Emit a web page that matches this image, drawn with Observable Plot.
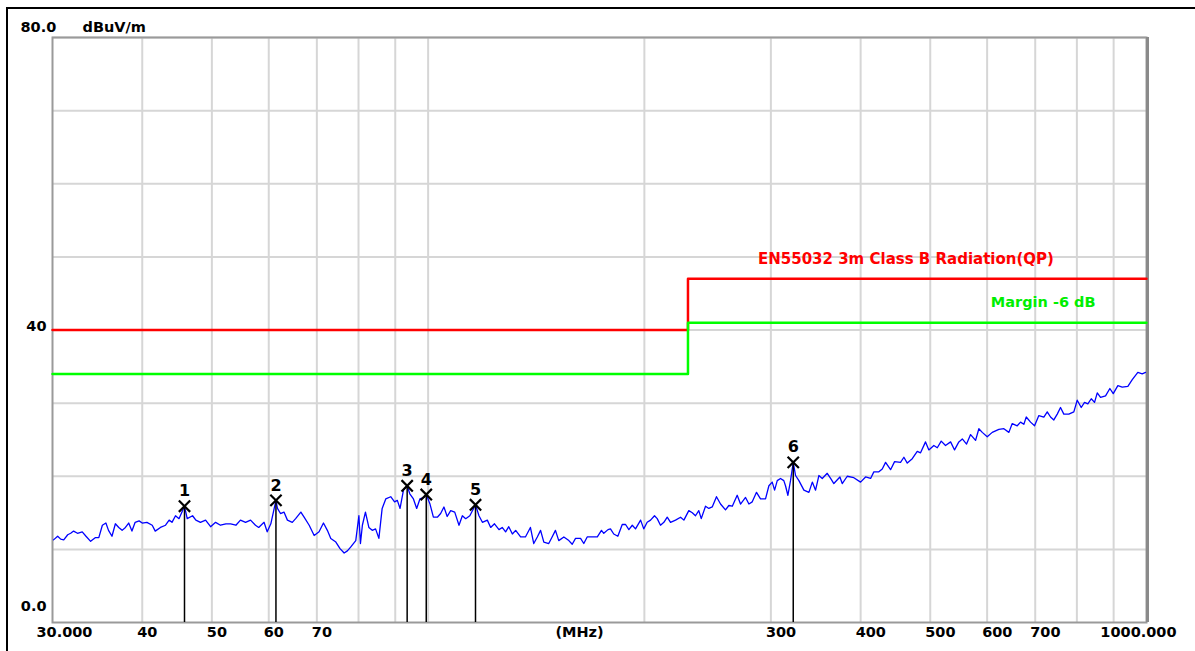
<!DOCTYPE html>
<html>
<head>
<meta charset="utf-8">
<script src="https://cdn.jsdelivr.net/npm/d3@7"></script>
<script src="https://cdn.jsdelivr.net/npm/@observablehq/plot@0.6"></script>
<style>
  html, body { margin: 0; padding: 0; background: #fff; overflow: hidden; width: 1195px; height: 651px; }
  #outer { position: absolute; left: 6px; top: 7px; width: 1400px; height: 900px; border: 2px solid #000; box-sizing: border-box; }
  #chart { position: absolute; left: 0; top: 0; }
</style>
</head>
<body>
<div id="outer"></div>
<div id="chart"></div>
<script>
// ---- data ----
const traceFreq = [
30.1, 30.5, 30.8, 31.1, 31.5, 31.8, 32.1, 32.5, 33.0, 33.4,
33.9, 34.4, 34.8, 35.2, 35.6, 35.9, 36.3, 36.7, 37.1, 37.5,
37.9, 38.3, 38.7, 39.1, 39.6, 40.0, 40.6, 41.3, 41.7, 42.4,
43.1, 43.6, 44.0, 44.5, 45.0, 45.8, 46.2, 47.0, 47.5, 48.2,
49.0, 49.8, 50.6, 51.4, 52.3, 53.1, 54.0, 54.8, 55.7, 56.6,
57.5, 58.1, 59.1, 59.7, 60.4, 61.4, 61.7, 62.3, 63.0, 63.7,
64.7, 65.4, 66.5, 67.2, 68.3, 69.4, 70.5, 71.5, 72.4, 73.2,
74.4, 75.4, 76.4, 77.2, 78.0, 79.3, 80.1, 80.5, 81.0, 81.8,
82.7, 83.6, 84.5, 85.4, 86.3, 87.3, 88.7, 89.8, 90.6, 91.4,
92.4, 93.5, 94.3, 95.4, 96.4, 97.4, 98.7, 99.4, 100.6, 101.7,
103.0, 104.1, 105.2, 106.3, 107.5, 108.9, 110.4, 111.6, 112.8, 114.3,
116.4, 117.7, 119.0, 120.9, 122.2, 123.7, 125.5, 126.8, 128.2, 129.5,
131.0, 132.4, 134.5, 136.6, 138.8, 140.3, 141.9, 143.4, 144.9, 147.2,
148.8, 150.4, 152.0, 154.5, 157.0, 158.7, 160.4, 163.0, 164.7, 166.5,
169.2, 172.0, 174.3, 175.6, 178.0, 179.4, 181.3, 183.7, 186.3, 188.3,
190.3, 192.4, 194.4, 197.6, 199.6, 201.8, 204.0, 206.6, 208.4, 210.6,
212.9, 215.2, 217.5, 221.0, 224.6, 227.0, 230.6, 233.2, 235.6, 238.1,
240.0, 243.3, 245.9, 248.6, 252.0, 255.3, 259.4, 262.2, 265.1, 269.3,
272.2, 276.6, 279.6, 282.6, 286.5, 290.2, 294.9, 298.1, 301.3, 303.6,
306.2, 309.4, 312.7, 314.4, 316.8, 319.5, 322.3, 324.7, 328.2, 333.5,
338.9, 342.6, 346.2, 349.9, 353.7, 359.4, 363.3, 367.1, 374.3, 377.1,
383.2, 391.4, 399.9, 406.4, 413.0, 417.3, 424.1, 428.7, 433.3, 440.3,
446.0, 454.6, 459.5, 464.5, 472.0, 479.6, 484.7, 492.5, 497.8, 505.8,
511.4, 517.9, 525.1, 533.7, 540.5, 548.0, 554.1, 561.7, 569.0, 578.2,
584.3, 590.7, 600.2, 609.9, 623.0, 633.1, 643.3, 650.3, 660.8, 667.8,
674.9, 680.2, 689.6, 698.5, 708.2, 719.6, 727.5, 735.2, 743.0, 751.2,
759.1, 767.2, 779.6, 792.2, 800.9, 811.2, 819.9, 828.6, 837.7, 846.6,
854.0, 863.0, 877.0, 889.2, 898.9, 912.3, 925.2, 942.0, 955.4, 972.6,
986.4, 996.9
];
const traceLevel = [
11.3, 11.8, 11.4, 11.3, 12.0, 12.2, 12.5, 12.2, 12.4, 11.8,
11.1, 11.6, 11.6, 13.3, 13.6, 12.6, 11.8, 13.5, 13.0, 12.6,
13.0, 13.6, 12.5, 13.7, 13.9, 13.6, 13.7, 13.3, 12.5, 13.0,
13.3, 14.0, 13.7, 14.6, 14.2, 15.9, 14.2, 14.6, 14.0, 13.7,
14.0, 13.1, 13.7, 13.3, 13.5, 13.5, 13.3, 14.0, 13.7, 14.0,
13.3, 13.0, 13.7, 12.4, 13.5, 16.7, 15.6, 14.9, 15.1, 14.0,
13.7, 14.2, 15.1, 14.4, 13.3, 11.9, 12.4, 13.6, 12.6, 11.5,
11.0, 10.1, 9.5, 9.8, 10.3, 11.2, 14.6, 10.8, 13.3, 15.1,
13.0, 12.6, 12.8, 11.5, 15.6, 16.9, 17.2, 16.5, 16.7, 15.6,
18.1, 18.7, 17.6, 16.9, 15.6, 16.9, 17.1, 17.5, 16.2, 14.4,
14.4, 14.9, 15.8, 14.5, 15.3, 15.1, 13.3, 14.6, 14.2, 14.6,
16.1, 14.6, 13.7, 14.0, 13.0, 13.5, 12.7, 13.0, 12.4, 13.1,
12.1, 12.6, 11.7, 11.7, 13.0, 10.8, 11.7, 12.6, 11.0, 10.8,
11.7, 12.6, 11.2, 11.7, 11.2, 10.7, 11.5, 11.5, 10.8, 11.7,
11.7, 11.7, 12.6, 12.2, 12.7, 12.8, 12.1, 11.8, 13.4, 13.4,
12.7, 13.3, 12.8, 14.0, 12.8, 13.7, 14.0, 14.6, 14.2, 13.3,
13.7, 14.4, 13.7, 14.0, 14.4, 14.0, 15.3, 15.0, 14.6, 15.3,
14.2, 15.9, 15.6, 15.8, 17.2, 16.2, 15.4, 16.0, 15.9, 17.4,
16.2, 17.1, 16.2, 16.5, 17.8, 16.9, 16.9, 18.7, 19.2, 18.1,
19.4, 19.7, 19.4, 18.7, 17.4, 19.4, 21.9, 20.1, 19.4, 18.1,
17.8, 19.2, 18.1, 20.1, 19.7, 20.4, 19.7, 19.0, 19.9, 19.0,
20.0, 19.8, 19.2, 19.9, 19.7, 20.6, 20.6, 21.0, 21.9, 20.9,
22.0, 21.9, 22.6, 21.8, 22.4, 23.4, 23.2, 24.7, 23.6, 24.2,
23.9, 24.8, 24.2, 24.7, 23.6, 24.7, 25.1, 24.4, 25.7, 24.9,
26.5, 26.0, 25.4, 26.0, 26.4, 26.5, 26.0, 27.2, 26.9, 27.4,
27.1, 28.1, 27.4, 26.9, 28.3, 28.1, 28.8, 28.1, 27.7, 28.5,
29.4, 28.5, 28.5, 28.8, 30.4, 29.4, 30.1, 29.9, 30.6, 30.1,
31.4, 30.8, 31.0, 32.0, 31.3, 32.4, 32.2, 32.3, 33.2, 34.2,
34.0, 34.2
];

const limitFreq = [30, 230, 230, 1000];
const limitLevel = [40, 40, 47, 47];
const marginLevel = [34, 34, 41, 41];
const limitName = "EN55032 3m Class B Radiation(QP)";
const marginName = "Margin -6 dB";

const markerNo = ["1", "2", "3", "4", "5", "6"];
const markerFreq = [45.8, 61.4, 93.5, 99.4, 116.4, 322.3];
const markerLevel = [15.9, 16.7, 18.7, 17.5, 16.1, 21.9];

const gridFreq = [40, 50, 60, 70, 80, 90, 100, 200, 300, 400, 500, 600, 700, 800, 900];
const gridLevel = [10, 20, 30, 40, 50, 60, 70, 80];

const xTickValues = [40, 50, 60, 70, 300, 400, 500, 600, 700];
const xTickLabels = ["40", "50", "60", "70", "300", "400", "500", "600", "700"];
const xStartLabel = "30.000";
const xEndLabel = "1000.000";
const xUnitLabel = "(MHz)";
const yUnitLabel = "dBuV/m";
const yTopLabel = "80.0";
const yMidValue = 40, yMidLabel = "40";
const yLowValue = 0, yLowLabel = "0.0";

// ---- tables ----
const trace = traceFreq.map((f, i) => ({f, v: traceLevel[i]}));
const limit = limitFreq.map((f, i) => ({f, v: limitLevel[i]}));
const margin = limitFreq.map((f, i) => ({f, v: marginLevel[i]}));
const markers = markerFreq.map((f, i) => ({f, v: markerLevel[i], n: markerNo[i]}));
const xTicks = xTickValues.map((f, i) => ({f, t: xTickLabels[i]}));

const font = "DejaVu Sans";
const lbl = {fontFamily: font, fontWeight: "bold", fontSize: 14.5, fill: "#000"};

const chart = Plot.plot({
  width: 1195,
  height: 651,
  marginLeft: 52,
  marginRight: 49,
  marginTop: 37,
  marginBottom: 29,
  x: {type: "log", domain: [30, 1000], axis: null},
  y: {domain: [0, 80], axis: null},
  style: {background: "transparent", overflow: "visible"},
  marks: [
    Plot.ruleX(gridFreq, {stroke: "#d6d6d6", strokeWidth: 2}),
    Plot.ruleY(gridLevel, {stroke: "#d6d6d6", strokeWidth: 2}),
    Plot.frame({stroke: "#9a9a9a", strokeWidth: 2}),
    Plot.ruleX([1000], {stroke: "#8a8a8a", strokeWidth: 3, dx: 1}),
    Plot.line(limit, {x: "f", y: "v", stroke: "#ff0000", strokeWidth: 2.5}),
    Plot.line(margin, {x: "f", y: "v", stroke: "#00ff00", strokeWidth: 2.5}),
    Plot.line(trace, {x: "f", y: "v", stroke: "#0000ff", strokeWidth: 1.3}),
    Plot.ruleX(markers, {x: "f", y1: 0, y2: "v", stroke: "#000", strokeWidth: 1.5}),
    Plot.dot(markers, {x: "f", y: "v", symbol: "times", r: 5.2, stroke: "#000", strokeWidth: 2.2}),
    Plot.text(markers, {x: "f", y: "v", text: "n", dy: -15, ...lbl, fontSize: 16}),
    // limit labels
    Plot.text([limitName], {x: limitFreq[1], y: limitLevel[2], text: d => d, textAnchor: "start", dx: 70, dy: -20, ...lbl, fontSize: 15, fill: "#ff0000"}),
    Plot.text([marginName], {x: limitFreq[3], y: marginLevel[2], text: d => d, textAnchor: "end", dx: -51, dy: -20, ...lbl, fontSize: 14.5, fill: "#00ee00"}),
    // x axis labels
    Plot.text(xTicks, {x: "f", text: "t", frameAnchor: "bottom", dy: 14, dx: -5, textAnchor: "start", ...lbl}),
    Plot.text([xStartLabel], {x: limitFreq[0], text: d => d, frameAnchor: "bottom", dy: 14, dx: -16, textAnchor: "start", ...lbl}),
    Plot.text([xEndLabel], {x: limitFreq[3], text: d => d, frameAnchor: "bottom", dy: 14, dx: 30, textAnchor: "end", ...lbl}),
    Plot.text([xUnitLabel], {text: d => d, frameAnchor: "bottom", dy: 14, dx: -20, ...lbl}),
    // y axis labels
    Plot.text([yTopLabel], {text: d => d, frameAnchor: "top-left", dy: -16, dx: -32, textAnchor: "start", ...lbl}),
    Plot.text([yUnitLabel], {text: d => d, frameAnchor: "top-left", dy: -16, dx: 30, textAnchor: "start", ...lbl}),
    Plot.text([yMidValue], {y: d => d, text: () => yMidLabel, frameAnchor: "left", dx: -6, dy: -4, textAnchor: "end", ...lbl}),
    Plot.text([yLowValue], {y: d => d, text: () => yLowLabel, frameAnchor: "left", dx: -6, dy: -16, textAnchor: "end", ...lbl})
  ]
});
document.getElementById("chart").appendChild(chart);
</script>
</body>
</html>
